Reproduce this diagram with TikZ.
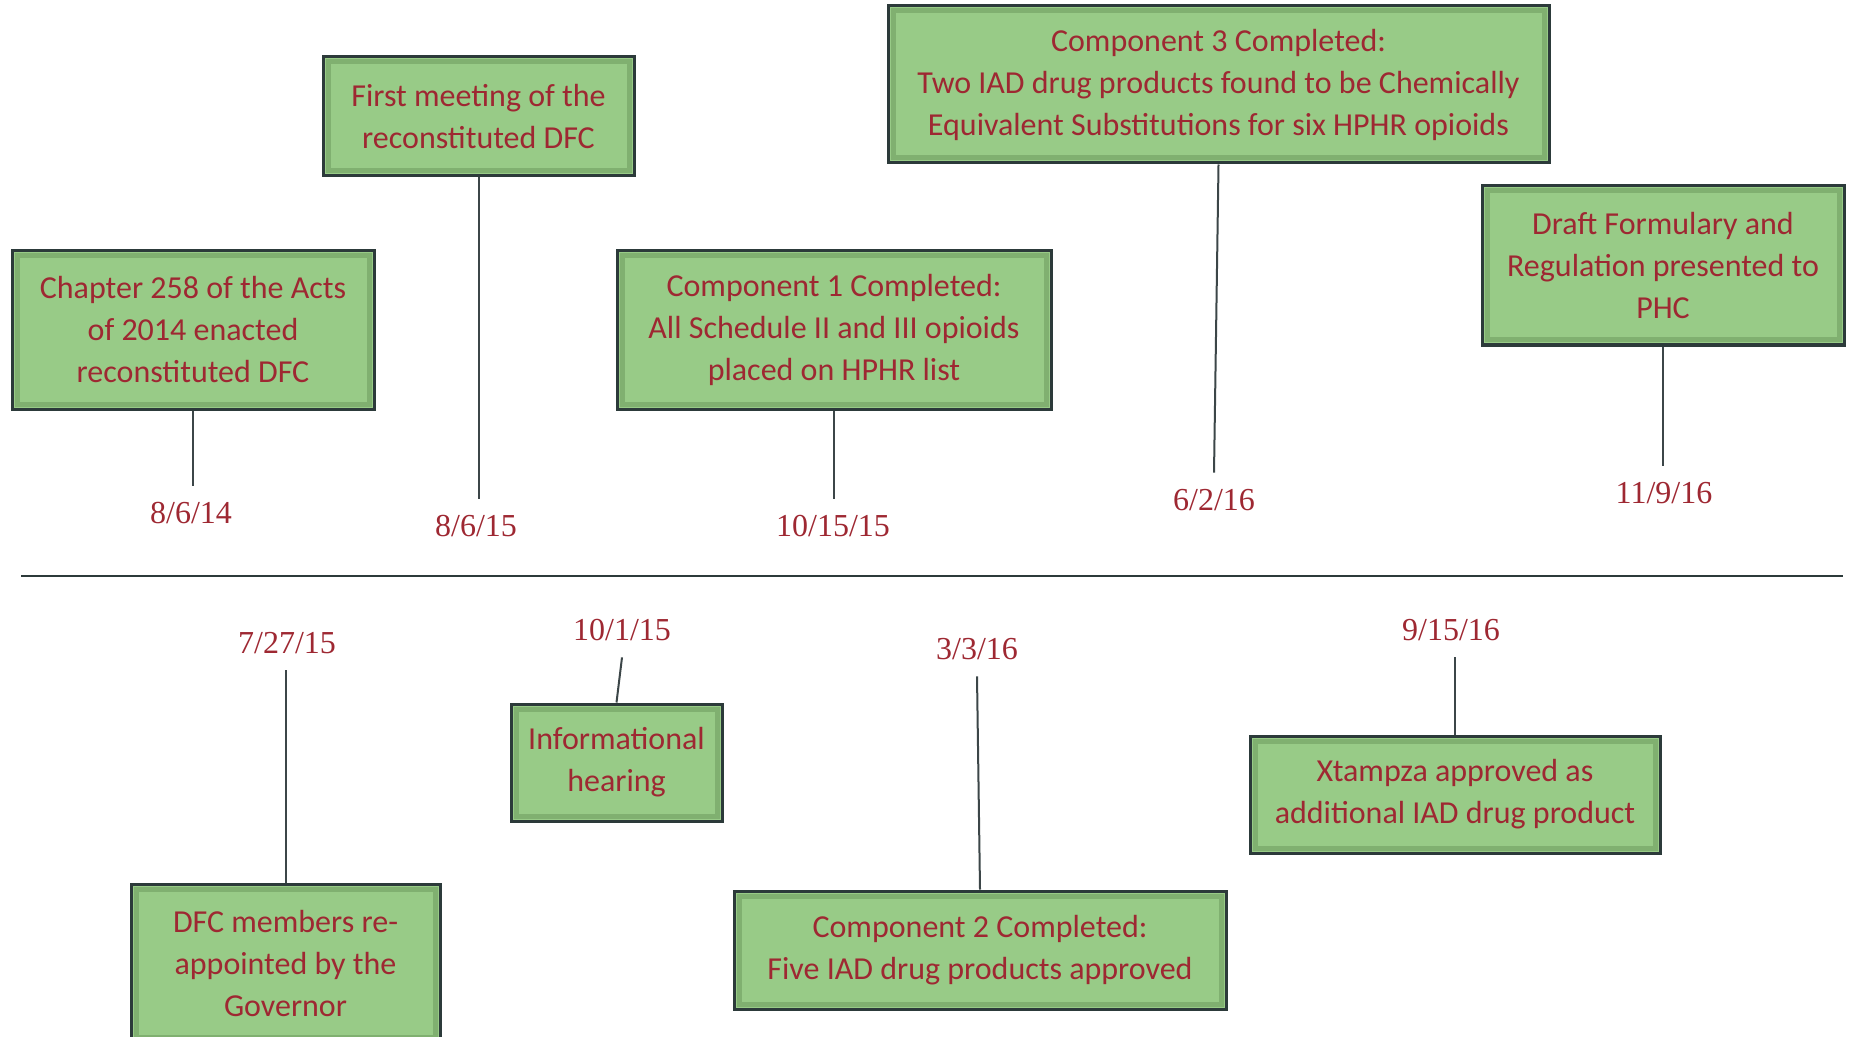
\documentclass[tikz,border=0pt]{standalone}
\usepackage{fontspec}
\setmainfont{Carlito}
\newfontfamily\datefont{Liberation Serif}
\usepackage{tikz}

\definecolor{boxgreen}{RGB}{152,203,135}
\definecolor{boxbevel}{RGB}{128,176,112}
\definecolor{boxborder}{RGB}{44,58,58}
\definecolor{datered}{RGB}{158,40,50}
\definecolor{stemgray}{RGB}{60,70,72}

\tikzset{
	event/.style={draw=boxborder, fill=boxgreen, line width=1.5pt, text=datered, align=center, inner sep=0pt, font=\fontsize{16}{21}\selectfont,
		path picture={\draw[boxbevel, line width=2.5pt] ([shift={(2.5pt,2.5pt)}]path picture bounding box.south west) rectangle ([shift={(-2.5pt,-2.5pt)}]path picture bounding box.north east);}},
	date/.style={text=datered, font=\datefont\fontsize{16}{19}\selectfont, inner xsep=0pt, inner ysep=7.5pt, text height=11pt, text depth=1pt},
	stem/.style={draw=stemgray, line width=1pt}
}

\begin{document}
\begin{tikzpicture}[x=0.5pt, y=-0.5pt]
	\useasboundingbox (0,0) rectangle (1850,1037);

	\node[event, minimum width=181pt, minimum height=79pt] (chapter) at (193,330) {Chapter 258 of the Acts\\of 2014 enacted\\reconstituted DFC};
	\node[event, minimum width=155.5pt, minimum height=59.5pt] (first) at (478.5,116.5) {First meeting of the\\reconstituted DFC};
	\node[event, minimum width=217pt, minimum height=79pt] (compA) at (834,330) {Component 1 Completed:\\All Schedule II and III opioids\\placed on HPHR list};
	\node[event, minimum width=330.5pt, minimum height=78.5pt] (compC) at (1218.5,84.5) {Component 3 Completed:\\Two IAD drug products found to be Chemically\\Equivalent Substitutions for six HPHR opioids};
	\node[event, minimum width=181pt, minimum height=79.5pt] (draft) at (1663,265.5) {Draft Formulary and\\Regulation presented to\\PHC};

	\node[event, minimum width=154.5pt, minimum height=79pt] (members) at (285.5,963) {DFC members re-\\appointed by the\\Governor};
	\node[event, minimum width=105.5pt, minimum height=58.5pt] (hearing) at (616.5,762.5) {Informational\\hearing};
	\node[event, minimum width=246pt, minimum height=59pt] (compB) at (980,950) {Component 2 Completed:\\Five IAD drug products approved};
	\node[event, minimum width=205pt, minimum height=58.5pt] (xtampza) at (1455,794.5) {Xtampza approved as\\additional IAD drug product};

	\node[date] (dChapter) at (191,513) {8/6/14};
	\node[date] (dFirst) at (476,526) {8/6/15};
	\node[date] (dCompA) at (833,526) {10/15/15};
	\node[date] (dCompC) at (1214,500) {6/2/16};
	\node[date] (dDraft) at (1664,493) {11/9/16};
	\node[date] (dMembers) at (287,643) {7/27/15};
	\node[date] (dHearing) at (622,630) {10/1/15};
	\node[date] (dCompB) at (977,649) {3/3/16};
	\node[date] (dXtampza) at (1451,630) {9/15/16};

	\draw[stem] (chapter.south) -- (chapter.south |- dChapter.north);
	\draw[stem] (first.south) -- (first.south |- dFirst.north);
	\draw[stem] (compA.south) -- (compA.south |- dCompA.north);
	\draw[stem] (compC.south) -- (dCompC.north);
	\draw[stem] (draft.south) -- (draft.south |- dDraft.north);
	\draw[stem] (members.north |- dMembers.south) -- (members.north);
	\draw[stem] (dHearing.south) -- (hearing.north);
	\draw[stem] (dCompB.south) -- (compB.north);
	\draw[stem] (xtampza.north |- dXtampza.south) -- (xtampza.north);

	\coordinate (axisL) at (21,576);
	\coordinate (axisR) at (1843,576);
	\draw[draw=boxborder, line width=1.2pt] (axisL) -- (axisR);
\end{tikzpicture}
\end{document}
